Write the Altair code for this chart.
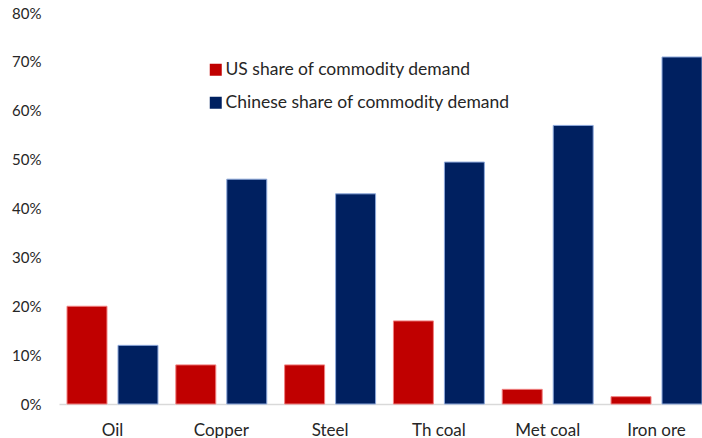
import altair as alt
import pandas as pd

commodities = ["Oil", "Copper", "Steel", "Th coal", "Met coal", "Iron ore"]
us_share = [20, 8, 8, 17, 3, 1.5]
cn_share = [12, 46, 43, 49.5, 57, 71]
series = ["US share of commodity demand", "Chinese share of commodity demand"]

rows = []
for c, u, z in zip(commodities, us_share, cn_share):
    rows.append({"commodity": c, "series": series[0], "value": u / 100})
    rows.append({"commodity": c, "series": series[1], "value": z / 100})
df = pd.DataFrame(rows)

font = "Lato"
text_color = "#262626"

chart = alt.Chart(df).mark_bar(strokeWidth=1).encode(
    x=alt.X("commodity:N", sort=commodities, title=None,
            scale=alt.Scale(paddingInner=0.164, paddingOuter=0.0368, align=1),
            axis=alt.Axis(labelAngle=0, labelFontSize=17, labelFont=font,
                          labelColor=text_color, ticks=False, tickSize=0,
                          domainColor="#D9D9D9", domainWidth=1.5,
                          labelPadding=31, labelBaseline="alphabetic")),
    xOffset=alt.XOffset("series:N", sort=series,
                        scale=alt.Scale(paddingInner=0.216, paddingOuter=0)),
    y=alt.Y("value:Q", title=None,
            scale=alt.Scale(domain=[0, 0.8], nice=False),
            axis=alt.Axis(format=".0%", values=[0, 0.1, 0.2, 0.3, 0.4, 0.5, 0.6, 0.7, 0.8],
                          grid=False, domain=False, ticks=False, tickSize=0,
                          labelFontSize=15, labelFont=font, labelColor=text_color,
                          labelPadding=18, labelBaseline="middle")),
    color=alt.Color("series:N", sort=series, title=None,
                    scale=alt.Scale(domain=series, range=["#C00000", "#002060"]),
                    legend=alt.Legend(orient="none", legendX=148, legendY=48,
                                      symbolType="square", symbolSize=144,
                                      symbolStrokeWidth=0,
                                      labelFontSize=17.5, labelFont=font,
                                      labelColor=text_color, labelOffset=1,
                                      rowPadding=14, labelLimit=400)),
    stroke=alt.Stroke("series:N", sort=series,
                      scale=alt.Scale(domain=series, range=["#F08080", "#8EA9DB"]),
                      legend=None),
).properties(
    width=643, height=391,
    autosize=alt.AutoSizeParams(type="none"),
    padding={"left": 59, "top": 13, "right": 0, "bottom": 34},
).configure(background="white").configure_view(stroke=None)

chart.save("out.html", embed_options={"renderer": "svg", "actions": False})
